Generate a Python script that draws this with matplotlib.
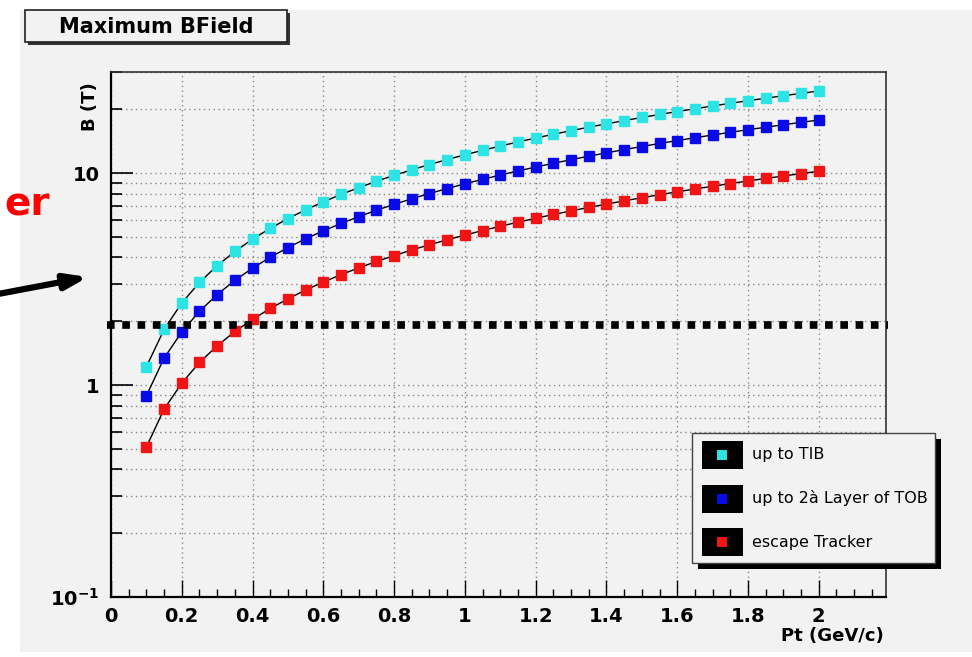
import numpy as np
import matplotlib
matplotlib.use('Agg')
import matplotlib.pyplot as plt
from matplotlib.patches import Rectangle
from matplotlib.ticker import LogLocator, NullFormatter, MultipleLocator

# data
pt = [0.10, 0.15, 0.20, 0.25, 0.30, 0.35, 0.40, 0.45, 0.50, 0.55, 0.60, 0.65, 0.70,
      0.75, 0.80, 0.85, 0.90, 0.95, 1.00, 1.05, 1.10, 1.15, 1.20, 1.25, 1.30, 1.35,
      1.40, 1.45, 1.50, 1.55, 1.60, 1.65, 1.70, 1.75, 1.80, 1.85, 1.90, 1.95, 2.00]
b_tib = [1.22, 1.83, 2.44, 3.05, 3.66, 4.27, 4.88, 5.49, 6.10, 6.71, 7.32, 7.93, 8.54,
         9.15, 9.76, 10.37, 10.98, 11.59, 12.20, 12.81, 13.42, 14.03, 14.64, 15.25, 15.86, 16.47,
         17.08, 17.69, 18.30, 18.91, 19.52, 20.13, 20.74, 21.35, 21.96, 22.57, 23.18, 23.79, 24.40]
b_tob = [0.89, 1.34, 1.78, 2.23, 2.67, 3.12, 3.56, 4.01, 4.45, 4.90, 5.34, 5.79, 6.23,
         6.68, 7.12, 7.57, 8.01, 8.46, 8.90, 9.35, 9.79, 10.24, 10.68, 11.13, 11.57, 12.02,
         12.46, 12.91, 13.35, 13.80, 14.24, 14.69, 15.13, 15.58, 16.02, 16.47, 16.91, 17.36, 17.80]
b_esc = [0.51, 0.77, 1.02, 1.28, 1.53, 1.79, 2.04, 2.30, 2.55, 2.81, 3.06, 3.32, 3.57,
         3.83, 4.08, 4.34, 4.59, 4.85, 5.10, 5.36, 5.61, 5.87, 6.12, 6.38, 6.63, 6.89,
         7.14, 7.40, 7.65, 7.91, 8.16, 8.42, 8.67, 8.93, 9.18, 9.44, 9.69, 9.95, 10.20]
series = [b_tib, b_tob, b_esc]
labels = ['up to TIB', 'up to 2à Layer of TOB', 'escape Tracker']
colors = ['#2ee3e3', '#0a0ae6', '#f01414']
b_limit = 1.93

W, H = 972, 657
bg = '#f2f2f2'

def fx(x):
    return x / W

def fy(y):
    return 1 - y / H

fig = plt.figure(figsize=(W / 100, H / 100), dpi=100, facecolor='white')
# ROOT canvas background
fig.patches.append(Rectangle((fx(20), fy(652)), 1, (652 - 10) / H, transform=fig.transFigure,
                             facecolor=bg, edgecolor='none', zorder=-5))

ax = fig.add_axes([fx(111), fy(597), (886 - 111) / W, (597 - 72) / H])
ax.set_facecolor(bg)
ax.set_yscale('log')
ax.set_xlim(0, 2.19)
ax.set_ylim(0.1, 30)

for vals, c in zip(series, colors):
    ax.plot(pt, vals, color='black', lw=1, zorder=3)
    ax.plot(pt, vals, ls='none', marker='s', ms=7, mfc=c, mec=c, zorder=4)

ax.plot([-0.01, 2.195], [b_limit, b_limit], color='black', lw=5.5,
        ls=(0, (1, 1)), dash_capstyle='butt', clip_on=False, zorder=5)

ax.xaxis.set_major_locator(MultipleLocator(0.2))
ax.xaxis.set_minor_locator(MultipleLocator(0.05))
ax.yaxis.set_minor_locator(LogLocator(base=10, subs=np.arange(2, 10)))
ax.yaxis.set_minor_formatter(NullFormatter())
ax.set_yticks([0.1, 1, 10])
ax.set_yticklabels([r'$\mathbf{10^{-1}}$', '1', '10'])
ax.set_xticks([0, 0.2, 0.4, 0.6, 0.8, 1, 1.2, 1.4, 1.6, 1.8, 2])
ax.set_xticklabels(['0', '0.2', '0.4', '0.6', '0.8', '1', '1.2', '1.4', '1.6', '1.8', '2'])

ax.tick_params(axis='x', which='major', direction='in', length=12, width=1, pad=7,
               labelsize=14, top=False)
ax.tick_params(axis='x', which='minor', direction='in', length=6, width=1, top=False)
ax.tick_params(axis='y', which='major', direction='in', length=16, width=1.2, pad=8,
               labelsize=14, right=False)
ax.tick_params(axis='y', which='minor', direction='in', length=8, width=1.2, right=False)
for lab in ax.get_xticklabels() + ax.get_yticklabels():
    lab.set_fontweight('bold')

ax.grid(True, which='major', axis='x', color='#888888', ls=(0, (1, 2.5)), lw=1)
ax.grid(True, which='both', axis='y', color='#888888', ls=(0, (1, 2.5)), lw=1)
ax.set_axisbelow(True)
for side in ['left', 'bottom']:
    ax.spines[side].set_linewidth(1.6)
for side in ['top', 'right']:
    ax.spines[side].set_linewidth(1.2)
    ax.spines[side].set_color('#333333')

# axis titles
fig.text(fx(90), fy(107), 'B (T)', rotation=90, ha='center', va='center',
         fontsize=13, fontweight='bold')
fig.text(fx(884), fy(636), 'Pt (GeV/c)', ha='right', va='center',
         fontsize=13, fontweight='bold')

# title box with shadow
fig.patches.append(Rectangle((fx(28), fy(45)), (287 - 25) / W, 32 / H, transform=fig.transFigure,
                             facecolor='#333333', edgecolor='none', zorder=2))
fig.patches.append(Rectangle((fx(25), fy(42)), (287 - 25) / W, 32 / H, transform=fig.transFigure,
                             facecolor=bg, edgecolor='#222222', lw=1.2, zorder=3))
fig.text(fx(156), fy(27), 'Maximum BField', ha='center', va='center',
         fontsize=15, fontweight='bold', zorder=4)

# legend box with shadow
fig.patches.append(Rectangle((fx(698), fy(569)), (935 - 692) / W, (563 - 433) / H,
                             transform=fig.transFigure, facecolor='black', edgecolor='none', zorder=6))
fig.patches.append(Rectangle((fx(692), fy(563)), (935 - 692) / W, (563 - 433) / H,
                             transform=fig.transFigure, facecolor=bg, edgecolor='#444444',
                             lw=1, zorder=7))
for i, (lab, c) in enumerate(zip(labels, colors)):
    yc = 455 + i * 43.5
    fig.patches.append(Rectangle((fx(702), fy(yc + 14)), 41 / W, 28 / H, transform=fig.transFigure,
                                 facecolor='black', edgecolor='none', zorder=8))
    fig.patches.append(Rectangle((fx(722 - 5), fy(yc + 5)), 10 / W, 10 / H, transform=fig.transFigure,
                                 facecolor=c, edgecolor='none', zorder=9))
    fig.text(fx(752), fy(yc), lab, ha='left', va='center', fontsize=11.5, zorder=10)

# slide overlay: red word fragment and arrow
fig.text(fx(50), fy(205), 'er', color='#ff0000', ha='right', va='center',
         fontsize=28, fontweight='bold')
ax.annotate('', xy=(88, H - 277), xycoords='figure pixels',
            xytext=(-2, H - 294), textcoords='figure pixels',
            arrowprops=dict(arrowstyle='-|>,head_length=1.3,head_width=0.45',
                            color='black', lw=4.5, shrinkA=0, shrinkB=0),
            annotation_clip=False)

plt.savefig('out.png', dpi=100, facecolor=fig.get_facecolor())
